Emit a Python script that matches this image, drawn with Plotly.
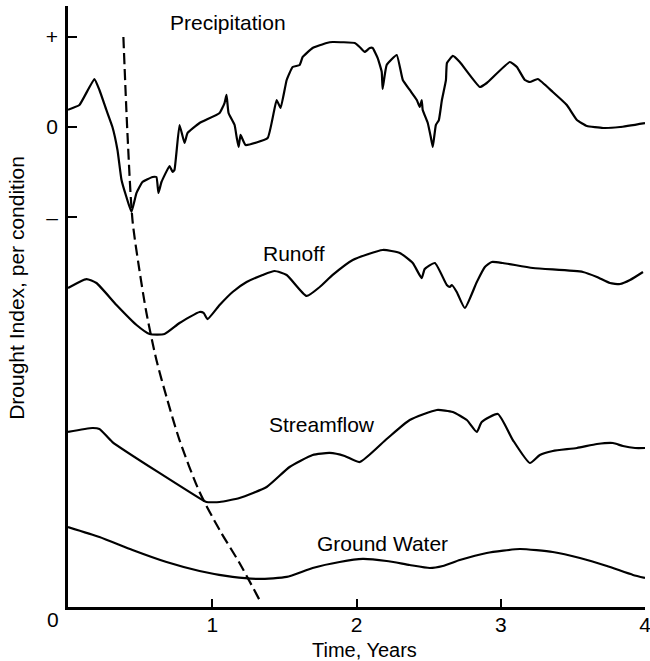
import plotly.graph_objects as go

# ---- data (time in years, drought index in tick units: + = 1, 0 = 0, - = -1) ----
precip_x = [0.00, 0.079, 0.183, 0.218, 0.266, 0.308, 0.343, 0.371, 0.405, 0.440,
            0.475, 0.516, 0.586, 0.613, 0.627, 0.648, 0.704, 0.725, 0.738, 0.773,
            0.808, 0.829, 0.912, 1.051, 1.085, 1.099, 1.113, 1.155, 1.169, 1.183,
            1.196, 1.231, 1.384, 1.446, 1.474, 1.516, 1.557, 1.606, 1.627, 1.696,
            1.793, 1.835, 1.988, 2.022, 2.057, 2.092, 2.112, 2.147, 2.175, 2.181,
            2.209, 2.279, 2.321, 2.369, 2.418, 2.438, 2.452, 2.459, 2.494, 2.515,
            2.529, 2.550, 2.571, 2.592, 2.620, 2.627, 2.668, 2.716, 2.855, 2.903,
            3.063, 3.112, 3.167, 3.202, 3.257, 3.361, 3.458, 3.528, 3.597, 3.709,
            3.827, 4.000]
precip_y = [0.19, 0.243, 0.530, 0.409, 0.188, 0.000, -0.254, -0.586, -0.774, -0.939,
            -0.729, -0.608, -0.553, -0.553, -0.729, -0.608, -0.431, -0.497, -0.475, 0.022,
            -0.177, -0.066, 0.044, 0.155, 0.265, 0.354, 0.155, 0.022, -0.111, -0.221,
            -0.088, -0.199, -0.122, 0.298, 0.210, 0.519, 0.663, 0.685, 0.774, 0.873,
            0.928, 0.939, 0.928, 0.884, 0.829, 0.873, 0.873, 0.762, 0.608, 0.420,
            0.685, 0.796, 0.519, 0.409, 0.298, 0.221, 0.298, 0.188, 0.044, -0.111,
            -0.221, 0.022, 0.077, 0.298, 0.519, 0.707, 0.785, 0.718, 0.442, 0.486,
            0.718, 0.663, 0.519, 0.497, 0.530, 0.387, 0.243, 0.077, 0.011, -0.011,
            0.000, 0.044]

runoff_x = [0.000, 0.128, 0.197, 0.336, 0.475, 0.565, 0.669, 0.773, 0.912, 0.940,
            0.967, 1.051, 1.141, 1.238, 1.349, 1.432, 1.516, 1.654, 1.745, 1.835,
            1.974, 2.182, 2.300, 2.390, 2.452, 2.473, 2.543, 2.626, 2.647, 2.661,
            2.695, 2.751, 2.834, 2.890, 2.938, 3.015, 3.223, 3.570, 3.667, 3.757,
            3.827, 3.896, 3.986]
runoff_y = [-1.779, -1.680, -1.724, -1.967, -2.188, -2.287, -2.287, -2.166, -2.044, -2.055,
            -2.122, -1.967, -1.823, -1.713, -1.635, -1.591, -1.635, -1.867, -1.768, -1.635,
            -1.470, -1.359, -1.392, -1.503, -1.669, -1.569, -1.503, -1.746, -1.768, -1.746,
            -1.823, -2.000, -1.713, -1.547, -1.492, -1.503, -1.558, -1.602, -1.657, -1.724,
            -1.735, -1.691, -1.602]

stream_x = [0.000, 0.169, 0.218, 0.308, 0.933, 0.960, 1.051, 1.189, 1.377, 1.536,
            1.696, 1.814, 1.918, 2.022, 2.209, 2.369, 2.557, 2.668, 2.765, 2.834,
            2.868, 2.980, 3.084, 3.202, 3.271, 3.361, 3.528, 3.667, 3.778, 3.847,
            3.931, 4.000]
stream_y = [-3.370, -3.326, -3.337, -3.481, -4.122, -4.144, -4.144, -4.099, -3.978, -3.757,
            -3.624, -3.602, -3.635, -3.702, -3.448, -3.238, -3.127, -3.149, -3.238, -3.370,
            -3.260, -3.171, -3.459, -3.713, -3.624, -3.580, -3.547, -3.503, -3.492, -3.525,
            -3.547, -3.547]

ground_x = [0.000, 0.218, 0.447, 0.683, 0.912, 1.141, 1.328, 1.516, 1.696, 1.883,
            2.043, 2.209, 2.369, 2.508, 2.598, 2.716, 2.903, 3.133, 3.361, 3.549,
            3.736, 3.917, 4.000]
ground_y = [-4.420, -4.530, -4.674, -4.807, -4.906, -4.972, -4.994, -4.972, -4.873, -4.807,
            -4.773, -4.796, -4.840, -4.873, -4.851, -4.785, -4.707, -4.663, -4.696, -4.762,
            -4.851, -4.950, -4.983]

lag_x = [0.384, 0.412, 0.447, 0.495, 0.544, 0.613, 0.683, 0.773, 0.912, 1.051, 1.189, 1.328]
lag_y = [0.994, -0.066, -1.028, -1.580, -2.055, -2.575, -2.983, -3.459, -4.033, -4.453, -4.818, -5.227]

x_ticks = [1, 2, 3, 4]
x_tick_text = ["1", "2", "3", "4"]
y_ticks = [1, 0, -1]
y_tick_text = ["+", "0", "–"]

series_labels = ["Precipitation", "Runoff", "Streamflow", "Ground Water"]
label_x = [1.106, 1.565, 1.759, 2.181]
label_y = [1.150, -1.400, -3.290, -4.605]

FONT = "Liberation Sans, Arial, sans-serif"
LW = 2.2

fig = go.Figure()
fig.add_trace(go.Scatter(x=precip_x, y=precip_y, mode="lines",
                         line=dict(color="black", width=LW, shape="spline", smoothing=0.35)))
for xs, ys in [(runoff_x, runoff_y), (stream_x, stream_y), (ground_x, ground_y)]:
    fig.add_trace(go.Scatter(x=xs, y=ys, mode="lines",
                             line=dict(color="black", width=LW, shape="spline", smoothing=0.5)))
fig.add_trace(go.Scatter(x=lag_x, y=lag_y, mode="lines",
                         line=dict(color="black", width=LW, dash="11px,5px",
                                   shape="spline", smoothing=0.8)))

for t, lx, ly in zip(series_labels, label_x, label_y):
    fig.add_annotation(x=lx, y=ly, xref="x", yref="y", text=t, showarrow=False,
                       xanchor="center", yanchor="middle",
                       font=dict(size=21, color="black", family=FONT))

# axis titles and origin label
fig.add_annotation(x=-0.0884, y=0.531, xref="paper", yref="paper",
                   xanchor="center", yanchor="middle",
                   text="Drought Index, per condition", textangle=-90, showarrow=False,
                   font=dict(size=21, color="black", family=FONT))
fig.add_annotation(x=0.513, y=-0.0715, xref="paper", yref="paper",
                   xanchor="center", yanchor="middle",
                   text="Time, Years", showarrow=False,
                   font=dict(size=20, color="black", family=FONT))
fig.add_annotation(x=-0.026, y=-0.020, xref="paper", yref="paper",
                   xanchor="center", yanchor="middle",
                   text="0", showarrow=False,
                   font=dict(size=21, color="black", family=FONT))

fig.update_layout(
    width=650, height=661,
    margin=dict(l=68, r=5, t=6, b=54),
    paper_bgcolor="white", plot_bgcolor="white",
    showlegend=False,
    font=dict(family=FONT, size=21, color="black"),
    xaxis=dict(range=[0, 4], tickvals=x_ticks, ticktext=x_tick_text,
               tickfont=dict(size=21, family=FONT, color="black"),
               showgrid=False, zeroline=False, showline=True, linecolor="black",
               linewidth=2.5, ticks="inside", ticklen=8, tickwidth=2, tickcolor="black",
               ticklabelstandoff=-3, ticklabeloverflow="allow", automargin=False),
    yaxis=dict(range=[-5.304, 1.337], tickvals=y_ticks, ticktext=y_tick_text,
               tickfont=dict(size=21, family=FONT, color="black"),
               showgrid=False, zeroline=False, showline=True, linecolor="black",
               linewidth=2.5, ticks="inside", ticklen=9, tickwidth=2, tickcolor="black",
               ticklabelstandoff=3, ticklabeloverflow="allow", automargin=False),
)

fig.write_html("out.html")
